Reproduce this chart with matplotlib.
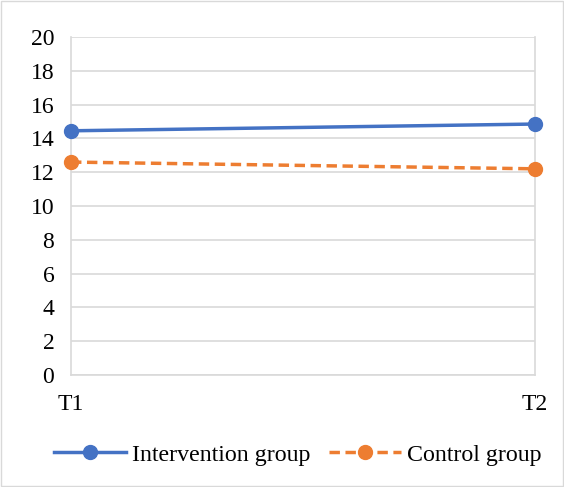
import matplotlib
matplotlib.use('Agg')
from matplotlib import pyplot as plt
from matplotlib.patches import Rectangle

plt.rcParams['font.family'] = ['Liberation Serif', 'DejaVu Serif']

# data
time_points = ['T1', 'T2']
intervention = [14.45, 14.85]
control = [12.6, 12.2]
y_ticks = list(range(0, 21, 2))

blue = '#4472C4'
orange = '#ED7D31'
grid_col = '#D9D9D9'

fig = plt.figure(figsize=(5.64, 4.87), dpi=100)
ax = fig.add_axes([0.1259, 0.23, 0.8227, 0.694])

x = range(len(time_points))
ax.plot(x, intervention, color=blue, lw=2.5, marker='o', ms=10,
        label='Intervention group', zorder=3, clip_on=False)
ax.plot(x, control, color=orange, lw=2.5, ls=(0, (3, 1.6)), marker='o', ms=10,
        label='Control group', zorder=3, clip_on=False)

ax.set_xlim(0, 1)
ax.set_ylim(0, 20)
ax.set_yticks(y_ticks)
ax.set_xticks(list(x))
ax.set_xticklabels(time_points)
ax.yaxis.grid(True, color=grid_col, lw=1.2)
ax.set_axisbelow(True)
ax.spines['top'].set_visible(False)
for s in ['left', 'right', 'bottom']:
    ax.spines[s].set_color(grid_col)
    ax.spines[s].set_linewidth(1.2)
ax.tick_params(length=0, labelsize=17, colors='black')
ax.tick_params(axis='y', pad=12)
ax.tick_params(axis='x', pad=14)

ax.legend(loc='center', bbox_to_anchor=(0.5275, 0.066), bbox_transform=fig.transFigure,
          ncol=2, frameon=False, fontsize=17.2, handlelength=3.0, handletextpad=0.25,
          columnspacing=0.8)

# thin frame around the chart area
fig.patches.append(Rectangle((0.002, 0.002), 0.996, 0.996, transform=fig.transFigure,
                             fill=False, edgecolor='#D9D9D9', lw=1))

fig.savefig('out.png', dpi=100)
